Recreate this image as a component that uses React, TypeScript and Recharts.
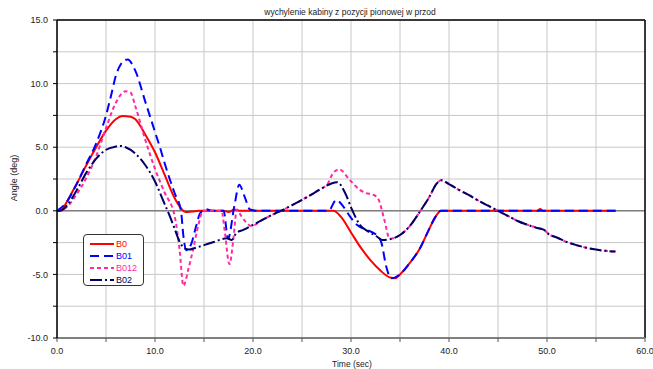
import {
  LineChart, Line, XAxis, YAxis, CartesianGrid, ReferenceLine
} from 'recharts';

// time (sec) / angle (deg)
const b0T = [0, 0.5, 1, 1.5, 2, 3, 4, 5, 6, 6.7, 7.5, 8, 9, 10, 11, 12, 12.7, 13.1, 13.8, 14.5, 17, 17.5, 18.1, 18.6, 20, 25, 28.2, 29, 30, 31, 32, 33, 34, 34.5, 35, 36, 37, 38, 38.6, 39.2, 40, 45, 49, 49.3, 49.6, 50, 55, 57];
const b0V = [0, 0.1, 0.7, 1.4, 2.1, 3.6, 5.0, 6.3, 7.2, 7.45, 7.4, 7.2, 6.0, 4.6, 2.8, 1.0, 0.15, -0.1, -0.05, 0, 0, -0.1, 0.1, 0, 0, 0, 0, -0.5, -1.7, -2.9, -3.9, -4.7, -5.25, -5.3, -5.0, -4.1, -3.0, -1.4, -0.5, 0, 0, 0, 0, 0.15, 0, 0, 0, 0];

const b01T = [0, 1, 2, 3, 4, 5, 5.5, 6, 6.5, 7.2, 8, 9, 10, 10.5, 11, 11.5, 12, 12.65, 12.9, 13.2, 13.7, 14.2, 14.6, 15.2, 15.8, 17, 17.45, 18.1, 18.6, 19.15, 19.7, 20.5, 27.7, 28.5, 29.2, 29.9, 30.6, 31.6, 32.6, 33.1, 33.6, 34.1, 35, 36, 37, 38, 38.6, 39.2, 40, 57];
const b01V = [0, 0.7, 2.1, 3.7, 5.3, 7.5, 9.0, 10.6, 11.5, 11.9, 11.0, 8.6, 6.2, 5.0, 3.7, 2.5, 1.4, 0, -2.0, -3.1, -2.6, -1.2, -0.2, 0.12, 0, 0, -2.2, 0.4, 2.05, 1.1, 0.1, 0, 0, 0.85, 0.35, -0.45, -1.1, -1.5, -1.9, -2.5, -4.4, -5.3, -5.0, -4.1, -3.0, -1.4, -0.5, 0, 0, 0];

const b012T = [0, 1, 2, 3, 4, 5, 6, 7, 7.5, 8, 9, 10, 11, 12, 12.5, 12.9, 13.4, 13.9, 14.4, 14.9, 15.5, 16.8, 17.1, 17.6, 18.0, 18.35, 18.8, 19.3, 19.8, 21, 22, 23, 24, 25, 26, 27, 27.6, 28.2, 28.8, 29.9, 30.9, 31.5, 32.3, 32.8, 33.4, 33.95, 35, 36, 37, 38, 38.7, 39.2, 40, 41, 42, 43, 44, 45, 46, 47, 48, 49, 49.7, 50.2, 51, 52, 53, 54, 55, 56, 57];
const b012V = [0, 0.3, 1.3, 2.6, 4.3, 6.5, 8.5, 9.4, 9.3, 8.2, 5.6, 3.3, 1.4, -0.4, -3.0, -5.9, -4.6, -3.0, -1.2, 0, 0, 0, -1.5, -4.2, -2.2, 0.1, -0.4, -0.9, -1.2, -0.7, -0.3, 0.05, 0.45, 0.85, 1.3, 1.75, 2.1, 3.0, 3.25, 2.4, 1.65, 1.4, 1.25, 0.9, -0.7, -2.2, -1.9, -1.2, -0.1, 1.1, 2.1, 2.4, 2.1, 1.65, 1.25, 0.8, 0.4, 0, -0.4, -0.8, -1.1, -1.35, -1.5, -1.85, -2.1, -2.45, -2.7, -2.9, -3.05, -3.15, -3.2];

const b02T = [0, 0.5, 1, 2, 3, 4, 5, 6, 6.5, 7, 8, 9, 10, 11, 11.5, 12, 12.5, 13, 13.5, 14, 15, 16, 17, 17.4, 17.8, 18.3, 19, 20, 21, 22, 23, 24, 25, 26, 27, 28, 28.6, 29.4, 30.1, 30.9, 31.7, 32.6, 33.2, 33.9, 35, 36, 37, 38, 38.7, 39.2, 40, 41, 42, 43, 44, 45, 46, 47, 48, 49, 49.7, 50.2, 51, 52, 53, 54, 55, 56, 57];
const b02V = [0, 0.05, 0.4, 1.6, 3.0, 4.1, 4.8, 5.05, 5.1, 5.0, 4.5, 3.6, 2.3, 0.5, -0.4, -1.4, -2.4, -2.95, -3.05, -2.95, -2.7, -2.45, -2.2, -2.15, -2.3, -1.75, -1.5, -1.1, -0.7, -0.3, 0.05, 0.45, 0.85, 1.3, 1.75, 2.15, 2.25, 1.4, 0.1, -1.1, -1.6, -2.0, -2.3, -2.25, -1.9, -1.2, -0.1, 1.1, 2.1, 2.4, 2.1, 1.65, 1.25, 0.8, 0.4, 0, -0.4, -0.8, -1.1, -1.35, -1.5, -1.85, -2.1, -2.45, -2.7, -2.9, -3.05, -3.15, -3.2];

const xTicks = [0, 5, 10, 15, 20, 25, 30, 35, 40, 45, 50, 55, 60];
const yTicks = [-10, -7.5, -5, -2.5, 0, 2.5, 5, 7.5, 10, 12.5, 15];

const series = [
  { name: 'B0', t: b0T, v: b0V, color: '#ff0000', dash: undefined },
  { name: 'B01', t: b01T, v: b01V, color: '#0000ff', dash: '9 5' },
  { name: 'B012', t: b012T, v: b012V, color: '#ff2aa0', dash: '4 3' },
  { name: 'B02', t: b02T, v: b02V, color: '#000066', dash: '12 3 2 3' },
];

const FONT = '"Liberation Sans", Arial, sans-serif';

function toPoints(t: number[], v: number[]) {
  return t.map((x, i) => ({ t: x, v: v[i] }));
}

function label(v: number, step: number) {
  return Math.abs(v % step) < 1e-9 ? v.toFixed(1) : '';
}

export default function App() {
  return (
    <div style={{ position: 'absolute', left: 0, top: 0, width: 653, height: 369, background: '#fff', fontFamily: FONT }}>
      <LineChart width={653} height={369} margin={{ top: 20, right: 8, left: 0, bottom: 0 }}>
        <CartesianGrid stroke="#c8c8c8" strokeWidth={1} />
        <XAxis
          type="number" dataKey="t" domain={[0, 60]} ticks={xTicks} height={31}
          tickFormatter={(v: number) => label(v, 10)}
          tick={{ fill: '#222', fontSize: 9, fontFamily: FONT }}
          tickSize={4} tickMargin={6}
          axisLine={{ stroke: '#808080', strokeWidth: 2 }}
          tickLine={{ stroke: '#555' }}
          allowDataOverflow
        />
        <YAxis
          type="number" domain={[-10, 15]} ticks={yTicks} width={57}
          tickFormatter={(v: number) => label(v, 5)}
          tick={{ fill: '#222', fontSize: 9, fontFamily: FONT }}
          tickSize={4} tickMargin={5}
          axisLine={{ stroke: '#000', strokeWidth: 1.5 }}
          tickLine={{ stroke: '#000' }}
          allowDataOverflow
        />
        <ReferenceLine y={0} stroke="#808080" strokeWidth={1.5} />
        <ReferenceLine y={15} stroke="#000" strokeWidth={1.5} />
        <ReferenceLine x={60} stroke="#000" strokeWidth={1.5} />
        {series.map(s => (
          <Line
            key={s.name}
            data={toPoints(s.t, s.v)}
            dataKey="v"
            type="monotone"
            stroke={s.color}
            strokeWidth={2}
            strokeDasharray={s.dash}
            dot={false}
            isAnimationActive={false}
          />
        ))}
      </LineChart>

      <div style={{ position: 'absolute', left: 0, width: 700, top: 7, textAlign: 'center', fontSize: 8.5, color: '#222' }}>
        wychylenie kabiny z pozycji pionowej w przod
      </div>
      <div style={{ position: 'absolute', left: 300, width: 104, top: 359, textAlign: 'center', fontSize: 8.5, color: '#222' }}>
        Time (sec)
      </div>
      <div style={{
        position: 'absolute', left: 14, top: 178, fontSize: 9, color: '#222', whiteSpace: 'nowrap',
        transform: 'translate(-50%, -50%) rotate(-90deg)'
      }}>
        Angle (deg)
      </div>

      <div style={{
        position: 'absolute', left: 83, top: 234, width: 59, height: 50,
        border: '1px solid #333', borderRadius: 4, background: '#fff'
      }}>
        {series.map((s, i) => (
          <div key={s.name} style={{ position: 'absolute', left: 6, top: 3 + i * 12.2, height: 11, display: 'flex', alignItems: 'center' }}>
            <svg width={24} height={6}>
              <line x1={0} y1={3} x2={24} y2={3} stroke={s.color} strokeWidth={2} strokeDasharray={s.dash} />
            </svg>
            <span style={{ fontSize: 9, color: s.color, marginLeft: 2 }}>{s.name}</span>
          </div>
        ))}
      </div>
    </div>
  );
}
